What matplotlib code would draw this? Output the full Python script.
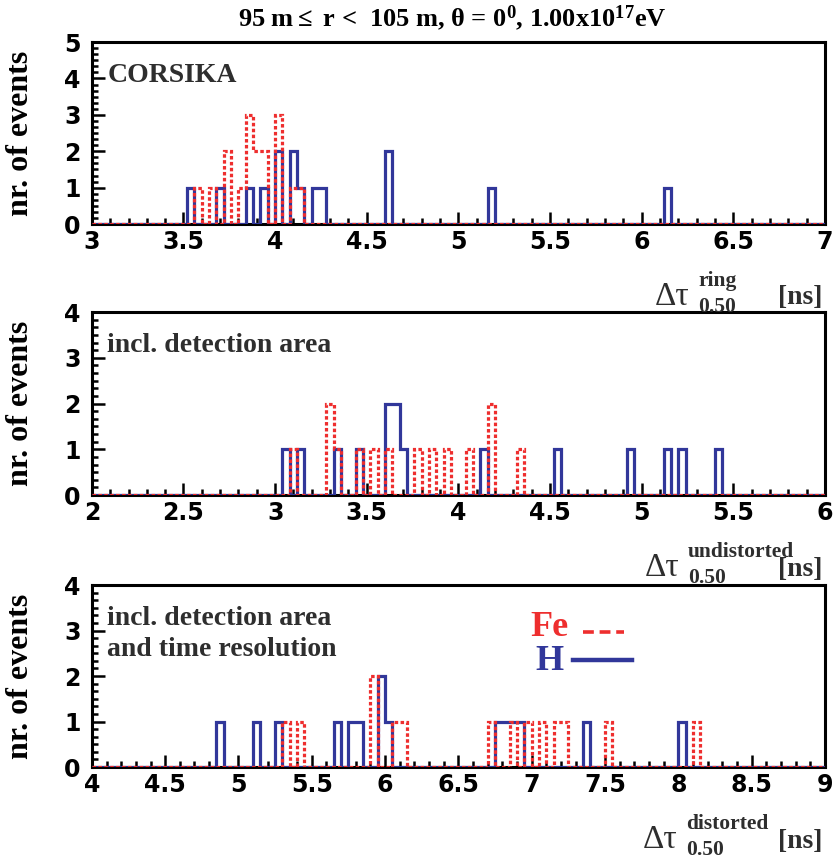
import numpy as np
import matplotlib
matplotlib.use("Agg")
import matplotlib.pyplot as plt
from matplotlib.ticker import MultipleLocator, AutoMinorLocator
from matplotlib.lines import Line2D

# ── Data (bin lower edge, counts) ────────────────────────────────────────────
# panel 1 : CORSIKA, 3..7 ns, bin width 0.04
h1_lo  = [3.52, 3.68, 3.84, 3.92, 4.00, 4.08, 4.12, 4.20, 4.24, 4.60, 5.16, 6.12]
h1_n   = [1, 1, 1, 1, 2, 2, 1, 1, 1, 2, 1, 1]
fe1_lo = [3.56, 3.64, 3.72, 3.80, 3.84, 3.88, 3.92, 4.00, 4.08, 4.12]
fe1_n  = [1, 1, 2, 1, 3, 2, 2, 3, 1, 1]

# panel 2 : incl. detection area, 2..6 ns, bin width 0.04
h2_lo  = [3.04, 3.12, 3.32, 3.44, 3.60, 3.64, 3.68, 4.12, 4.52, 4.92, 5.12, 5.20, 5.40]
h2_n   = [1, 1, 1, 1, 2, 2, 1, 1, 1, 1, 1, 1, 1]
fe2_lo = [3.08, 3.28, 3.32, 3.44, 3.52, 3.60, 3.76, 3.84, 3.92, 4.04, 4.16, 4.32]
fe2_n  = [1, 2, 1, 1, 1, 1, 1, 1, 1, 1, 2, 1]

# panel 3 : incl. detection area and time resolution, 4..9 ns, bin width 0.05
h3_lo  = [4.85, 5.10, 5.25, 5.65, 5.75, 5.80, 5.95, 6.00, 6.75, 6.80, 6.85, 6.90, 7.35, 8.00]
h3_n   = [1, 1, 1, 1, 1, 1, 2, 1, 1, 1, 1, 1, 1, 1]
fe3_lo = [5.30, 5.40, 5.90, 6.05, 6.10, 6.70, 6.85, 6.95, 7.05, 7.15, 7.20, 7.50, 8.10]
fe3_n  = [1, 1, 2, 1, 1, 1, 1, 1, 1, 1, 1, 1, 1]

panels = [
    dict(xr=(3, 7), ymax=5, h=(h1_lo, h1_n), fe=(fe1_lo, fe1_n),
         text="CORSIKA", sup="ring", dx=655),
    dict(xr=(2, 6), ymax=4, h=(h2_lo, h2_n), fe=(fe2_lo, fe2_n),
         text="incl. detection area", sup="undistorted", dx=645),
    dict(xr=(4, 9), ymax=4, h=(h3_lo, h3_n), fe=(fe3_lo, fe3_n),
         text="incl. detection area\nand time resolution", sup="distorted", dx=643),
]

RED  = "#ee2e2e"
BLUE = "#31379a"
GREY = "#2e2e2e"
N_BINS = 100
W, H = 835, 860

plt.rcParams["mathtext.fontset"] = "custom"
plt.rcParams["mathtext.rm"] = "Liberation Serif:bold"
plt.rcParams["mathtext.it"] = "Liberation Serif:bold"
plt.rcParams["mathtext.bf"] = "Liberation Serif:bold"

fig = plt.figure(figsize=(W / 100, H / 100), dpi=100)
serif = dict(family="Liberation Serif", fontweight="bold")


def ftext(px, py, s, **kw):
    # place text using pixel coordinates of the reference (y from top)
    return fig.text(px / W, 1 - py / H, s, **kw)


boxes = [(0.110, 0.7395, 0.878, 0.2116),
         (0.110, 0.4244, 0.878, 0.2128),
         (0.110, 0.1081, 0.878, 0.2116)]
bottoms = [224, 495, 767]

for p, box, yb in zip(panels, boxes, bottoms):
    ax = fig.add_axes(box)
    x0, x1 = p["xr"]
    edges = np.linspace(x0, x1, N_BINS + 1)
    w = edges[1] - edges[0]

    lo, n = p["h"]
    ax.hist(np.array(lo) + w / 2, bins=edges, weights=n, histtype="step",
            color=BLUE, lw=2.3, zorder=3)
    lo, n = p["fe"]
    ax.hist(np.array(lo) + w / 2, bins=edges, weights=n, histtype="step",
            color=RED, lw=2.3, linestyle=(0, (1.1, 0.75)), zorder=4)

    ax.set_xlim(x0, x1)
    ax.set_ylim(0, p["ymax"])
    ax.xaxis.set_major_locator(MultipleLocator(0.5))
    ax.xaxis.set_minor_locator(MultipleLocator(0.1))
    ax.yaxis.set_major_locator(MultipleLocator(1))
    ax.yaxis.set_minor_locator(AutoMinorLocator(6))
    ax.tick_params(which="both", direction="in", top=False, right=False,
                   width=1.8, labelsize=17, pad=4)
    ax.tick_params(which="major", length=9)
    ax.tick_params(which="minor", length=4.5)
    ax.tick_params(axis="y", pad=8)
    for lab in ax.get_xticklabels() + ax.get_yticklabels():
        lab.set_fontweight("bold")
    ax.xaxis.set_major_formatter(plt.FuncFormatter(lambda v, _: f"{v:g}"))
    for s in ax.spines.values():
        s.set_linewidth(2.2)

    ax.set_ylabel("nr. of events", fontsize=23, **serif)
    ax.yaxis.set_label_coords(-0.078, 0.5)
    ax.text(0.021, 0.885, p["text"], transform=ax.transAxes, va="top", ha="left",
            fontsize=20, color=GREY, linespacing=1.3, **serif)

    # axis label: Delta tau with super/subscript, then unit
    ftext(p["dx"], yb + 73, "\u0394\u03c4", family="Liberation Serif",
          fontsize=24, color=GREY, ha="left", va="center")
    ftext(p["dx"] + 43, yb + 57, p["sup"], fontsize=15.5, color=GREY,
          ha="left", va="center", **serif)
    ftext(p["dx"] + 43, yb + 83, "0.50", fontsize=15.5, color=GREY,
          ha="left", va="center", **serif)
    ftext(822, yb + 74, "[ns]", fontsize=20, color=GREY, ha="right",
          va="center", **serif)

# title
ftext(452, 18, r"95 m$\leq$ r <  105 m, $\theta$ = 0$^{0}$, 1.00x10$^{17}$eV",
      ha="center", va="center", fontsize=19, color="black", **serif)

# legend in the bottom panel
ftext(530, 628, "Fe", color=RED, fontsize=26, ha="left", va="center", **serif)
ftext(535, 661, "H", color=BLUE, fontsize=26, ha="left", va="center", **serif)
fig.add_artist(Line2D([583 / W, 624 / W], [1 - 632 / H, 1 - 632 / H], color=RED,
                      lw=2.6, linestyle=(0, (3.0, 1.6))))
fig.add_artist(Line2D([573 / W, 632 / W], [1 - 660 / H, 1 - 660 / H], color=BLUE,
                      lw=3.2))

fig.savefig("out.png", dpi=100)
